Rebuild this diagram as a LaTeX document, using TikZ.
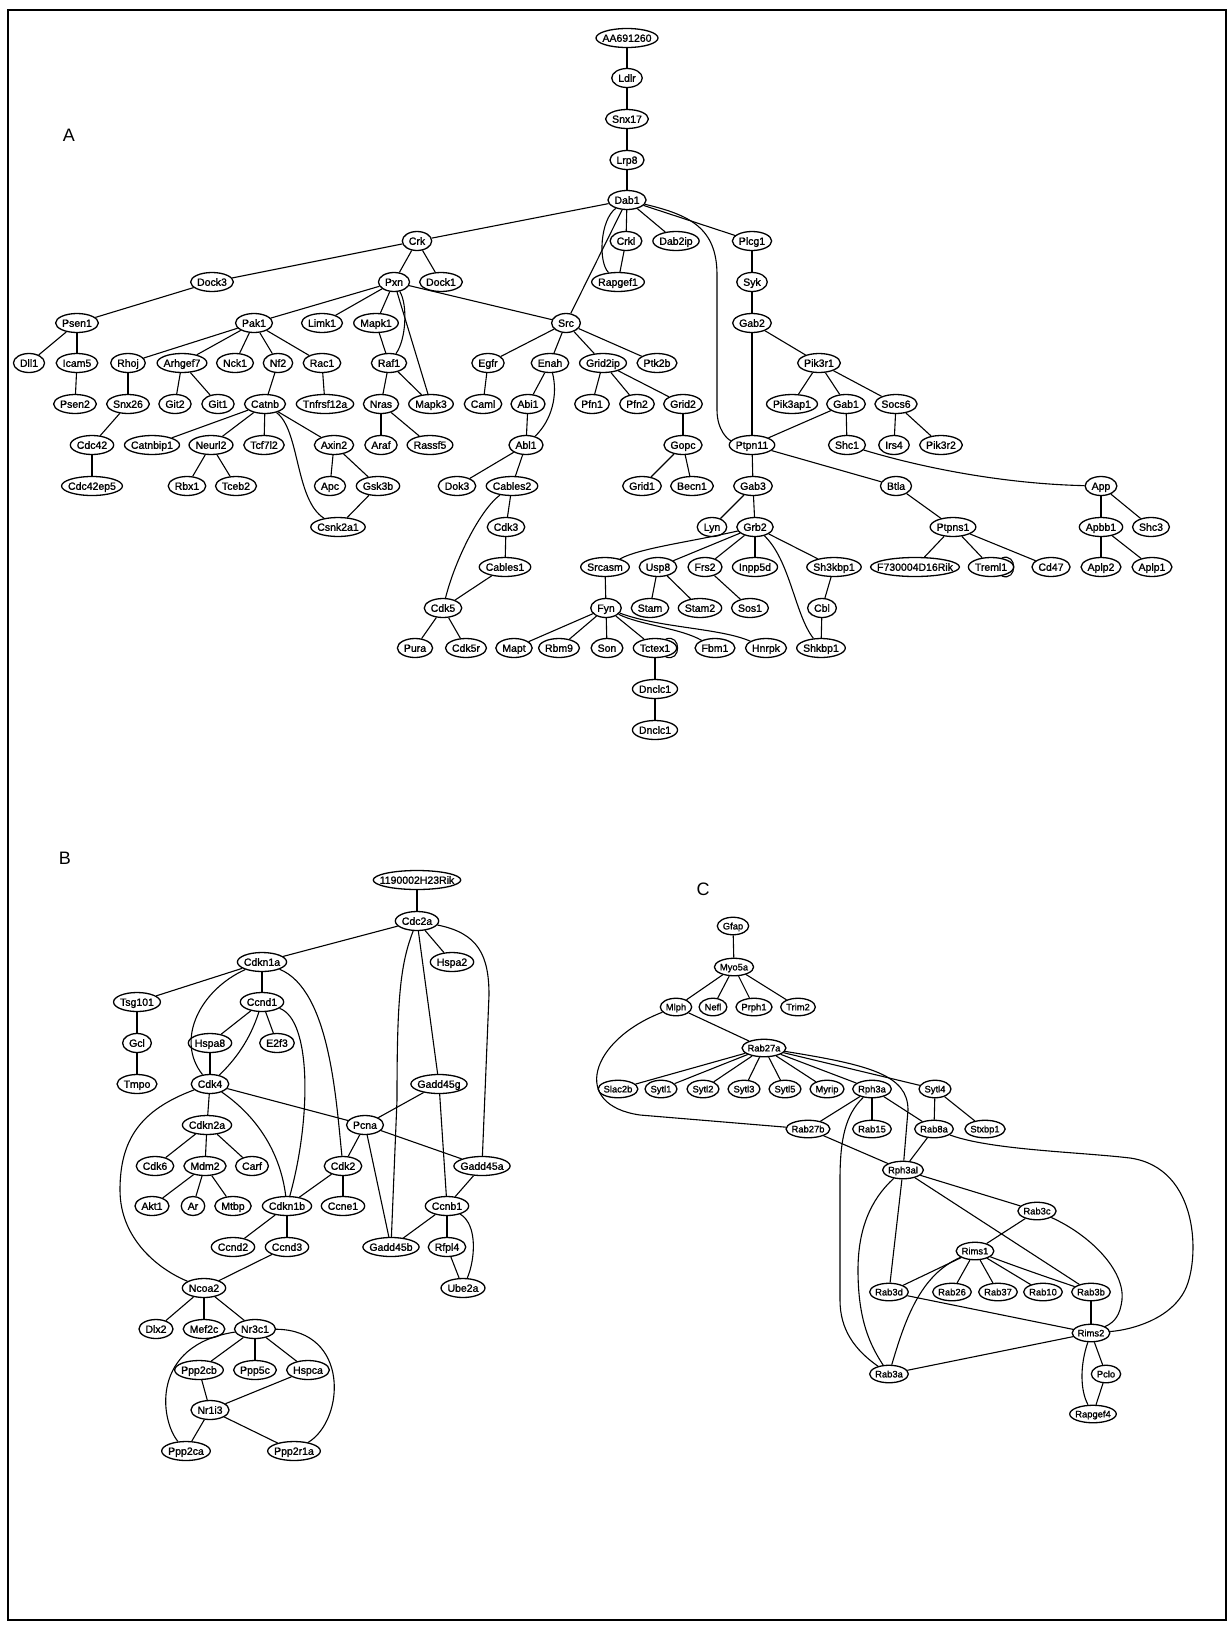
\documentclass[tikz,border=0pt]{standalone}
\usepackage{fontspec}
\setmainfont{Liberation Sans}
\usetikzlibrary{shapes.geometric}
\newlength\gnw
\font\gnprim="Liberation Sans:embolden=1.3" at 10.5pt
\font\gnprimC="Liberation Sans:embolden=1.3" at 9.4pt
\tikzset{
  gnode/.style={ellipse, draw, line width=1.3pt, fill=white, inner sep=0pt,
    minimum height=19pt, text height=7.6pt, text depth=0pt, font=\gnprim},
  gnodeC/.style={gnode, minimum height=17.5pt, text height=6.8pt, font=\gnprimC},
  edge/.style={line width=1.1pt},
  panel/.style={font=\fontsize{18}{20}\selectfont}
}
% generic node: #1 font, #2 padding, #3 style, #4 name, #5 position, #6 label
\newcommand\gnx[6]{\pgfinterruptpicture\global\setbox1=\hbox{#1#6}\endpgfinterruptpicture\gnw=\wd1\relax\node[#3, minimum width=\gnw+#2] (#4) at (#5) {\makebox[0pt]{#6}};}
\newcommand\gn[3]{\gnx{\gnprim}{13pt}{gnode}{#1}{#2}{#3}}
\newcommand\gc[3]{\gnx{\gnprimC}{11pt}{gnodeC}{#1}{#2}{#3}}
\begin{document}
\begin{tikzpicture}[x=1pt,y=-1pt]
\useasboundingbox (0,0) rectangle (1230,1625);
\draw[line width=2.5pt] (8,10) rectangle (1226,1620);
\node[panel] (labA) at (69,135) {A};
\node[panel] (labB) at (65,858) {B};
\node[panel] (labC) at (703,889) {C};
% ---------------- Panel A ----------------
\gn{AA691260}{627,38}{AA691260}
\gn{Ldlr}{627,78}{Ldlr}
\gn{Snx17}{627,119}{Snx17}
\gn{Lrp8}{627,160}{Lrp8}
\gn{Dab1}{627,200}{Dab1}
\gn{Crk}{417,241}{Crk}
\gn{Crkl}{626,241}{Crkl}
\gn{Dab2ip}{676,241}{Dab2ip}
\gn{Plcg1}{752,241}{Plcg1}
\gn{Dock3}{212,282}{Dock3}
\gn{Pxn}{394,282}{Pxn}
\gn{Dock1}{441,282}{Dock1}
\gn{Rapgef1}{618,282}{Rapgef1}
\gn{Syk}{752,282}{Syk}
\gn{Psen1}{77,323}{Psen1}
\gn{Pak1}{254,323}{Pak1}
\gn{Limk1}{322,323}{Limk1}
\gn{Mapk1}{376,323}{Mapk1}
\gn{Src}{566,323}{Src}
\gn{Gab2}{752,323}{Gab2}
\gn{Dll1}{29,363}{Dll1}
\gn{Icam5}{77,363}{Icam5}
\gn{Rhoj}{128,363}{Rhoj}
\gn{Arhgef7}{182,363}{Arhgef7}
\gn{Nck1}{235,363}{Nck1}
\gn{Nf2}{278,363}{Nf2}
\gn{Rac1}{322,363}{Rac1}
\gn{Raf1}{389,363}{Raf1}
\gn{Egfr}{488,363}{Egfr}
\gn{Enah}{550,363}{Enah}
\gn{Grid2ip}{603,363}{Grid2ip}
\gn{Ptk2b}{657,363}{Ptk2b}
\gn{Pik3r1}{819,363}{Pik3r1}
\gn{Psen2}{75,404}{Psen2}
\gn{Snx26}{128,404}{Snx26}
\gn{Git2}{175,404}{Git2}
\gn{Git1}{218,404}{Git1}
\gn{Catnb}{265,404}{Catnb}
\gn{Tnfrsf12a}{325,404}{Tnfrsf12a}
\gn{Nras}{381,404}{Nras}
\gn{Mapk3}{431,404}{Mapk3}
\gn{Caml}{483,404}{Caml}
\gn{Abi1}{528,404}{Abi1}
\gn{Pfn1}{592,404}{Pfn1}
\gn{Pfn2}{637,404}{Pfn2}
\gn{Grid2}{683,404}{Grid2}
\gn{Pik3ap1}{792,404}{Pik3ap1}
\gn{Gab1}{846,404}{Gab1}
\gn{Socs6}{896,404}{Socs6}
\gn{Cdc42}{92,445}{Cdc42}
\gn{Catnbip1}{152,445}{Catnbip1}
\gn{Neurl2}{211,445}{Neurl2}
\gn{Tcf7l2}{264,445}{Tcf7l2}
\gn{Axin2}{334,445}{Axin2}
\gn{Araf}{381,445}{Araf}
\gn{Rassf5}{430,445}{Rassf5}
\gn{Abl1}{526,445}{Abl1}
\gn{Gopc}{683,445}{Gopc}
\gn{Ptpn11}{752,445}{Ptpn11}
\gn{Shc1}{847,445}{Shc1}
\gn{Irs4}{894,445}{Irs4}
\gn{Pik3r2}{941,445}{Pik3r2}
\gn{Cdc42ep5}{92,486}{Cdc42ep5}
\gn{Rbx1}{187,486}{Rbx1}
\gn{Tceb2}{236,486}{Tceb2}
\gn{Apc}{330,486}{Apc}
\gn{Gsk3b}{378,486}{Gsk3b}
\gn{Dok3}{457,486}{Dok3}
\gn{Cables2}{512,486}{Cables2}
\gn{Grid1}{642,486}{Grid1}
\gn{Becn1}{692,486}{Becn1}
\gn{Gab3}{753,486}{Gab3}
\gn{Btla}{896,486}{Btla}
\gn{App}{1101,486}{App}
\gn{Csnk2a1}{338,527}{Csnk2a1}
\gn{Cdk3}{506,527}{Cdk3}
\gn{Lyn}{712,527}{Lyn}
\gn{Grb2}{755,527}{Grb2}
\gn{Ptpns1}{953,527}{Ptpns1}
\gn{Apbb1}{1101,527}{Apbb1}
\gn{Shc3}{1151,527}{Shc3}
\gn{Cables1}{505,567}{Cables1}
\gn{Srcasm}{605,567}{Srcasm}
\gn{Usp8}{658,567}{Usp8}
\gn{Frs2}{705,567}{Frs2}
\gn{Inpp5d}{755,567}{Inpp5d}
\gn{Sh3kbp1}{834,567}{Sh3kbp1}
\gn{F730004D16Rik}{915,567}{F730004D16Rik}
\gn{Treml1}{991,567}{Treml1}
\gn{Cd47}{1051,567}{Cd47}
\gn{Aplp2}{1101,567}{Aplp2}
\gn{Aplp1}{1152,567}{Aplp1}
\gn{Cdk5}{443,608}{Cdk5}
\gn{Fyn}{606,608}{Fyn}
\gn{Stam}{650,608}{Stam}
\gn{Stam2}{700,608}{Stam2}
\gn{Sos1}{750,608}{Sos1}
\gn{Cbl}{822,608}{Cbl}
\gn{Pura}{415,648}{Pura}
\gn{Cdk5r}{466,648}{Cdk5r}
\gn{Mapt}{514,648}{Mapt}
\gn{Rbm9}{559,648}{Rbm9}
\gn{Son}{607,648}{Son}
\gn{Tctex1}{655,648}{Tctex1}
\gn{Fbm1}{715,648}{Fbm1}
\gn{Hnrpk}{766,648}{Hnrpk}
\gn{Shkbp1}{821,648}{Shkbp1}
\gn{DnclcA}{655,689}{Dnclc1}
\gn{DnclcB}{655,730}{Dnclc1}
\foreach \a/\b in {AA691260/Ldlr, Ldlr/Snx17, Snx17/Lrp8, Lrp8/Dab1, Dab1/Crk, Dab1/Crkl,
  Dab1/Dab2ip, Dab1/Plcg1, Dab1/Src, Crk/Dock3, Crk/Pxn, Crk/Dock1, Crkl/Rapgef1, Plcg1/Syk,
  Syk/Gab2, Gab2/Ptpn11, Gab2/Pik3r1, Dock3/Psen1, Psen1/Dll1, Psen1/Icam5, Icam5/Psen2,
  Pxn/Pak1, Pxn/Limk1, Pxn/Mapk1, Pxn/Mapk3, Pxn/Src, Pak1/Rhoj, Pak1/Arhgef7, Pak1/Nck1,
  Pak1/Nf2, Pak1/Rac1, Mapk1/Raf1, Raf1/Nras, Raf1/Mapk3, Nras/Araf, Nras/Rassf5, Rhoj/Snx26,
  Snx26/Cdc42, Cdc42/Cdc42ep5, Arhgef7/Git2, Arhgef7/Git1, Nf2/Catnb, Rac1/Tnfrsf12a,
  Catnb/Catnbip1, Catnb/Neurl2, Catnb/Tcf7l2, Catnb/Axin2, Neurl2/Rbx1, Neurl2/Tceb2,
  Axin2/Apc, Axin2/Gsk3b, Gsk3b/Csnk2a1, Src/Egfr, Src/Enah, Src/Grid2ip, Src/Ptk2b,
  Egfr/Caml, Enah/Abi1, Abi1/Abl1, Grid2ip/Pfn1, Grid2ip/Pfn2, Grid2ip/Grid2, Grid2/Gopc,
  Gopc/Grid1, Gopc/Becn1, Abl1/Dok3, Abl1/Cables2, Cables2/Cdk3, Cdk3/Cables1, Cables1/Cdk5,
  Cdk5/Pura, Cdk5/Cdk5r, Pik3r1/Pik3ap1, Pik3r1/Gab1, Pik3r1/Socs6, Gab1/Ptpn11, Gab1/Shc1,
  Socs6/Irs4, Socs6/Pik3r2, Ptpn11/Gab3, Ptpn11/Btla, Btla/Ptpns1, Ptpns1/F730004D16Rik,
  Ptpns1/Treml1, Ptpns1/Cd47, App/Apbb1, App/Shc3, Apbb1/Aplp2, Apbb1/Aplp1, Gab3/Lyn,
  Gab3/Grb2, Grb2/Usp8, Grb2/Frs2, Grb2/Inpp5d, Grb2/Sh3kbp1, Srcasm/Fyn, Usp8/Stam,
  Usp8/Stam2, Frs2/Sos1, Sh3kbp1/Cbl, Cbl/Shkbp1, Fyn/Mapt, Fyn/Rbm9, Fyn/Son, Fyn/Tctex1,
  Tctex1/DnclcA, DnclcA/DnclcB}
  \draw[edge] (\a) -- (\b);
\draw[edge] (Dab1) .. controls (600,220) and (598,262) .. (Rapgef1);
\draw[edge] (Dab1) .. controls (690,215) and (717,228) .. (717,275) -- (717,410) .. controls (717,430) and (728,440) .. (Ptpn11);
\draw[edge] (Pxn) .. controls (408,305) and (406,340) .. (Raf1);
\draw[edge] (Catnb) .. controls (300,430) and (295,500) .. (Csnk2a1);
\draw[edge] (Enah) .. controls (558,395) and (552,420) .. (Abl1);
\draw[edge] (Cables2) .. controls (480,510) and (455,560) .. (Cdk5);
\draw[edge] (Shc1) .. controls (930,470) and (1010,484) .. (App);
\draw[edge] (Grb2) .. controls (790,560) and (795,615) .. (Shkbp1);
\draw[edge] (Grb2) .. controls (690,542) and (640,548) .. (Srcasm);
\draw[edge] (Fyn) .. controls (640,625) and (680,628) .. (Fbm1);
\draw[edge] (Fyn) .. controls (660,628) and (720,628) .. (Hnrpk);
\draw[edge] (Tctex1.40) .. controls ([shift={(16,-6)}]Tctex1.40) and ([shift={(16,6)}]Tctex1.-40) .. (Tctex1.-40);
\draw[edge] (Treml1.40) .. controls ([shift={(16,-6)}]Treml1.40) and ([shift={(16,6)}]Treml1.-40) .. (Treml1.-40);
% ---------------- Panel B ----------------
\gn{RikB}{417,880}{1190002H23Rik}
\gn{Cdc2a}{417,921}{Cdc2a}
\gn{Cdkn1a}{262,962}{Cdkn1a}
\gn{Hspa2}{452,962}{Hspa2}
\gn{Tsg101}{137,1002}{Tsg101}
\gn{Ccnd1}{262,1002}{Ccnd1}
\gn{Gcl}{137,1043}{Gcl}
\gn{Hspa8}{210,1043}{Hspa8}
\gn{E2f3}{277,1043}{E2f3}
\gn{Tmpo}{137,1084}{Tmpo}
\gn{Cdk4}{210,1084}{Cdk4}
\gn{Gadd45g}{439,1084}{Gadd45g}
\gn{Cdkn2a}{207,1125}{Cdkn2a}
\gn{Pcna}{365,1125}{Pcna}
\gn{Cdk6}{155,1166}{Cdk6}
\gn{Mdm2}{205,1166}{Mdm2}
\gn{Carf}{252,1166}{Carf}
\gn{Cdk2}{343,1166}{Cdk2}
\gn{Gadd45a}{482,1166}{Gadd45a}
\gn{Akt1}{152,1206}{Akt1}
\gn{Ar}{193,1206}{Ar}
\gn{Mtbp}{233,1206}{Mtbp}
\gn{Cdkn1b}{287,1206}{Cdkn1b}
\gn{Ccne1}{343,1206}{Ccne1}
\gn{Ccnb1}{447,1206}{Ccnb1}
\gn{Ccnd2}{233,1247}{Ccnd2}
\gn{Ccnd3}{287,1247}{Ccnd3}
\gn{Gadd45b}{391,1247}{Gadd45b}
\gn{Rfpl4}{447,1247}{Rfpl4}
\gn{Ncoa2}{204,1288}{Ncoa2}
\gn{Ube2a}{463,1288}{Ube2a}
\gn{Dlx2}{156,1329}{Dlx2}
\gn{Mef2c}{204,1329}{Mef2c}
\gn{Nr3c1}{255,1329}{Nr3c1}
\gn{Ppp2cb}{199,1370}{Ppp2cb}
\gn{Ppp5c}{255,1370}{Ppp5c}
\gn{Hspca}{308,1370}{Hspca}
\gn{Nr1i3}{210,1410}{Nr1i3}
\gn{Ppp2ca}{186,1451}{Ppp2ca}
\gn{Ppp2r1a}{294,1451}{Ppp2r1a}
\foreach \a/\b in {RikB/Cdc2a, Cdc2a/Cdkn1a, Cdc2a/Hspa2, Cdc2a/Gadd45g, Cdkn1a/Tsg101,
  Cdkn1a/Ccnd1, Tsg101/Gcl, Gcl/Tmpo, Ccnd1/Hspa8, Ccnd1/E2f3, Hspa8/Cdk4, Cdk4/Pcna,
  Cdk4/Cdkn2a, Gadd45g/Pcna, Gadd45g/Ccnb1, Pcna/Cdk2, Pcna/Gadd45b, Pcna/Gadd45a,
  Cdkn2a/Cdk6, Cdkn2a/Mdm2, Cdkn2a/Carf, Mdm2/Akt1, Mdm2/Ar, Mdm2/Mtbp, Cdk2/Cdkn1b,
  Cdk2/Ccne1, Gadd45a/Ccnb1, Cdkn1b/Ccnd2, Cdkn1b/Ccnd3, Ccnb1/Gadd45b, Ccnb1/Rfpl4,
  Rfpl4/Ube2a, Ccnd3/Ncoa2, Ncoa2/Dlx2, Ncoa2/Mef2c, Ncoa2/Nr3c1, Nr3c1/Ppp2cb,
  Nr3c1/Ppp5c, Nr3c1/Hspca, Ppp2cb/Nr1i3, Hspca/Nr1i3, Nr1i3/Ppp2ca, Nr1i3/Ppp2r1a}
  \draw[edge] (\a) -- (\b);
\draw[edge] (Cdc2a) .. controls (400,965) and (397,1000) .. (397,1100) -- (Gadd45b);
\draw[edge] (Cdc2a) .. controls (478,933) and (489,955) .. (489,995) -- (Gadd45a);
\draw[edge] (Cdkn1a) .. controls (200,990) and (175,1040) .. (Cdk4);
\draw[edge] (Cdkn1a) .. controls (330,990) and (336,1100) .. (Cdk2);
\draw[edge] (Ccnd1) .. controls (250,1040) and (235,1060) .. (Cdk4);
\draw[edge] (Ccnd1) .. controls (312,1020) and (311,1120) .. (Cdkn1b);
\draw[edge] (Cdk4) .. controls (255,1115) and (280,1150) .. (Cdkn1b);
\draw[edge] (Cdk4) .. controls (140,1110) and (120,1140) .. (120,1190) .. controls (120,1240) and (160,1270) .. (Ncoa2);
\draw[edge] (Ccnb1) .. controls (478,1225) and (475,1260) .. (Ube2a);
\draw[edge] (Nr3c1) .. controls (150,1345) and (160,1420) .. (Ppp2ca);
\draw[edge] (Nr3c1) .. controls (350,1330) and (345,1420) .. (Ppp2r1a);
% ---------------- Panel C ----------------
\gc{Gfap}{733,926}{Gfap}
\gc{Myo5a}{734,967}{Myo5a}
\gc{Mlph}{676,1007}{Mlph}
\gc{Nefl}{713,1007}{Nefl}
\gc{Prph1}{754,1007}{Prph1}
\gc{Trim2}{798,1007}{Trim2}
\gc{Rab27a}{764,1048}{Rab27a}
\gc{Slac2b}{618,1089}{Slac2b}
\gc{Sytl1}{661,1089}{Sytl1}
\gc{Sytl2}{703,1089}{Sytl2}
\gc{Sytl3}{744,1089}{Sytl3}
\gc{Sytl5}{785,1089}{Sytl5}
\gc{Myrip}{827,1089}{Myrip}
\gc{Rph3a}{872,1089}{Rph3a}
\gc{Sytl4}{935,1089}{Sytl4}
\gc{Rab27b}{808,1129}{Rab27b}
\gc{Rab15}{872,1129}{Rab15}
\gc{Rab8a}{934,1129}{Rab8a}
\gc{Stxbp1}{985,1129}{Stxbp1}
\gc{Rph3al}{903,1170}{Rph3al}
\gc{Rab3c}{1037,1211}{Rab3c}
\gc{Rims1}{975,1251}{Rims1}
\gc{Rab3d}{889,1292}{Rab3d}
\gc{Rab26}{952,1292}{Rab26}
\gc{Rab37}{998,1292}{Rab37}
\gc{Rab10}{1043,1292}{Rab10}
\gc{Rab3b}{1091,1292}{Rab3b}
\gc{Rims2}{1091,1333}{Rims2}
\gc{Rab3a}{889,1374}{Rab3a}
\gc{Pclo}{1106,1374}{Pclo}
\gc{Rapgef4}{1093,1414}{Rapgef4}
\foreach \a/\b in {Gfap/Myo5a, Myo5a/Mlph, Myo5a/Nefl, Myo5a/Prph1, Myo5a/Trim2,
  Mlph/Rab27a, Rab27a/Slac2b, Rab27a/Sytl1, Rab27a/Sytl2, Rab27a/Sytl3, Rab27a/Sytl5,
  Rab27a/Myrip, Rab27a/Rph3a, Rab27a/Sytl4, Rph3a/Rab27b, Rph3a/Rab15, Rph3a/Rab8a,
  Sytl4/Rab8a, Sytl4/Stxbp1, Rab8a/Rph3al, Rab27b/Rph3al, Rph3al/Rab3c, Rph3al/Rab3b,
  Rph3al/Rab3d, Rab3c/Rims1, Rims1/Rab3d, Rims1/Rab26, Rims1/Rab37, Rims1/Rab10,
  Rab3d/Rims2, Rab3b/Rims2, Rims2/Rab3a, Rims2/Pclo, Pclo/Rapgef4}
  \draw[edge] (\a) -- (\b);
\draw[edge] (Mlph) .. controls (590,1040) and (570,1105) .. (640,1115) -- (Rab27b);
\draw[edge] (Rab27a) .. controls (870,1065) and (908,1075) .. (908,1110) -- (Rph3al);
\draw[edge] (Rph3a) .. controls (845,1115) and (840,1140) .. (840,1180) -- (840,1300) .. controls (840,1330) and (855,1350) .. (Rab3a);
\draw[edge] (Rph3al) .. controls (870,1200) and (858,1230) .. (858,1270) .. controls (858,1320) and (870,1345) .. (Rab3a);
\draw[edge] (Rab8a) .. controls (990,1150) and (1080,1152) .. (1130,1158) .. controls (1200,1168) and (1200,1260) .. (1185,1290) .. controls (1170,1320) and (1130,1330) .. (Rims2);
\draw[edge] (Rab3c) .. controls (1090,1235) and (1125,1270) .. (1122,1300) .. controls (1120,1315) and (1115,1322) .. (Rims2);
\draw[edge] (Rims1) .. controls (1020,1268) and (1055,1280) .. (Rab3b);
\draw[edge] (Rims1) .. controls (920,1275) and (905,1320) .. (Rab3a);
\draw[edge] (Rims2) .. controls (1080,1365) and (1080,1390) .. (Rapgef4);
\end{tikzpicture}
\end{document}
